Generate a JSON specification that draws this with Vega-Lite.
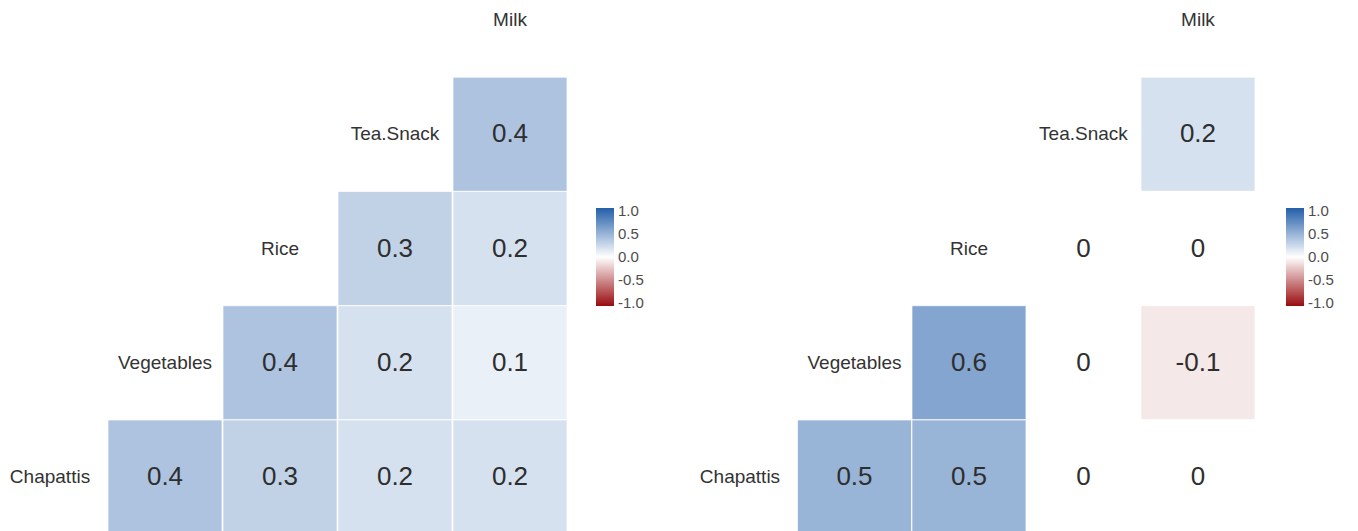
{
  "$schema": "https://vega.github.io/schema/vega-lite/v6.json",
  "padding": 0,
  "background": "#ffffff",
  "spacing": 0,
  "bounds": "flush",
  "config": {
    "view": {"stroke": null},
    "font": "Liberation Sans"
  },
  "datasets": {
    "diet_a": [
      {"row": "Tea.Snack", "col": "Milk", "value": 0.4},
      {"row": "Rice", "col": "Tea.Snack", "value": 0.3},
      {"row": "Rice", "col": "Milk", "value": 0.2},
      {"row": "Vegetables", "col": "Rice", "value": 0.4},
      {"row": "Vegetables", "col": "Tea.Snack", "value": 0.2},
      {"row": "Vegetables", "col": "Milk", "value": 0.1},
      {"row": "Chapattis", "col": "Vegetables", "value": 0.4},
      {"row": "Chapattis", "col": "Rice", "value": 0.3},
      {"row": "Chapattis", "col": "Tea.Snack", "value": 0.2},
      {"row": "Chapattis", "col": "Milk", "value": 0.2}
    ],
    "diet_b": [
      {"row": "Tea.Snack", "col": "Milk", "value": 0.2},
      {"row": "Rice", "col": "Tea.Snack", "value": 0},
      {"row": "Rice", "col": "Milk", "value": 0},
      {"row": "Vegetables", "col": "Rice", "value": 0.6},
      {"row": "Vegetables", "col": "Tea.Snack", "value": 0},
      {"row": "Vegetables", "col": "Milk", "value": -0.1},
      {"row": "Chapattis", "col": "Vegetables", "value": 0.5},
      {"row": "Chapattis", "col": "Rice", "value": 0.5},
      {"row": "Chapattis", "col": "Tea.Snack", "value": 0},
      {"row": "Chapattis", "col": "Milk", "value": 0}
    ],
    "vars": [
      {"name": "Chapattis"},
      {"name": "Vegetables"},
      {"name": "Rice"},
      {"name": "Tea.Snack"},
      {"name": "Milk"}
    ]
  },
  "resolve": {
    "scale": {"x": "independent", "y": "independent", "color": "independent"},
    "legend": {"color": "independent"}
  },
  "hconcat": [
    {
      "width": 690,
      "height": 531,
      "layer": [
        {
          "data": {"name": "diet_a"},
          "mark": {"type": "square", "size": 12996, "filled": true, "opacity": 1, "stroke": "#ffffff", "strokeWidth": 1, "strokeOpacity": 0.7},
          "encoding": {
            "x": {"field": "col", "type": "nominal", "axis": null,
                  "scale": {"type": "point", "domain": ["Chapattis", "Vegetables", "Rice", "Tea.Snack", "Milk"], "padding": 1, "align": 0.2174, "round": false}},
            "y": {"field": "row", "type": "nominal", "axis": null,
                  "scale": {"type": "point", "domain": ["Milk", "Tea.Snack", "Rice", "Vegetables", "Chapattis"], "padding": 0.3239, "align": 0.2703, "round": false}},
            "color": {"field": "value", "type": "quantitative",
                      "scale": {"domain": [-1.065, 0, 1.065], "range": ["#980B0E", "#ffffff", "#245FA9"], "interpolate": "rgb"},
                      "legend": {"orient": "none", "legendX": 596, "legendY": 208, "title": null, "direction": "vertical",
                                 "gradientLength": 98, "gradientThickness": 18, "gradientStrokeWidth": 0, "padding": 0,
                                 "values": [1, 0.5, 0, -0.5, -1], "labelFontSize": 15, "labelColor": "#4d4d4d", "labelOffset": 4,
                                 "labelOverlap": false,
                                 "labelExpr": "replace(format(datum.value, '.1f'), '\u2212', '-')"}}
          }
        },
        {
          "data": {"name": "diet_a"},
          "mark": {"type": "text", "fontSize": 26, "color": "#2e2e2e", "align": "center", "baseline": "middle"},
          "encoding": {
            "x": {"field": "col", "type": "nominal", "axis": null},
            "y": {"field": "row", "type": "nominal", "axis": null},
            "text": {"field": "value", "type": "nominal"}
          }
        },
        {
          "data": {"name": "vars"},
          "mark": {"type": "text", "fontSize": 19, "color": "#333333", "align": "center", "baseline": "middle"},
          "encoding": {
            "x": {"field": "name", "type": "nominal", "axis": null},
            "y": {"field": "name", "type": "nominal", "axis": null},
            "text": {"field": "name", "type": "nominal"}
          }
        }
      ]
    },
    {
      "width": 668,
      "height": 531,
      "layer": [
        {
          "data": {"name": "diet_b"},
          "mark": {"type": "square", "size": 12996, "filled": true, "opacity": 1, "stroke": "#ffffff", "strokeWidth": 1, "strokeOpacity": 0.7},
          "encoding": {
            "x": {"field": "col", "type": "nominal", "axis": null,
                  "scale": {"type": "point", "domain": ["Chapattis", "Vegetables", "Rice", "Tea.Snack", "Milk"], "padding": 0.917, "align": 0.238, "round": false}},
            "y": {"field": "row", "type": "nominal", "axis": null,
                  "scale": {"type": "point", "domain": ["Milk", "Tea.Snack", "Rice", "Vegetables", "Chapattis"], "padding": 0.3239, "align": 0.2703, "round": false}},
            "color": {"field": "value", "type": "quantitative",
                      "scale": {"domain": [-1.065, 0, 1.065], "range": ["#980B0E", "#ffffff", "#245FA9"], "interpolate": "rgb"},
                      "legend": {"orient": "none", "legendX": 596, "legendY": 208, "title": null, "direction": "vertical",
                                 "gradientLength": 98, "gradientThickness": 18, "gradientStrokeWidth": 0, "padding": 0,
                                 "values": [1, 0.5, 0, -0.5, -1], "labelFontSize": 15, "labelColor": "#4d4d4d", "labelOffset": 4,
                                 "labelOverlap": false,
                                 "labelExpr": "replace(format(datum.value, '.1f'), '\u2212', '-')"}}
          }
        },
        {
          "data": {"name": "diet_b"},
          "mark": {"type": "text", "fontSize": 26, "color": "#2e2e2e", "align": "center", "baseline": "middle"},
          "encoding": {
            "x": {"field": "col", "type": "nominal", "axis": null},
            "y": {"field": "row", "type": "nominal", "axis": null},
            "text": {"field": "value", "type": "nominal"}
          }
        },
        {
          "data": {"name": "vars"},
          "mark": {"type": "text", "fontSize": 19, "color": "#333333", "align": "center", "baseline": "middle"},
          "encoding": {
            "x": {"field": "name", "type": "nominal", "axis": null},
            "y": {"field": "name", "type": "nominal", "axis": null},
            "text": {"field": "name", "type": "nominal"}
          }
        }
      ]
    }
  ]
}
